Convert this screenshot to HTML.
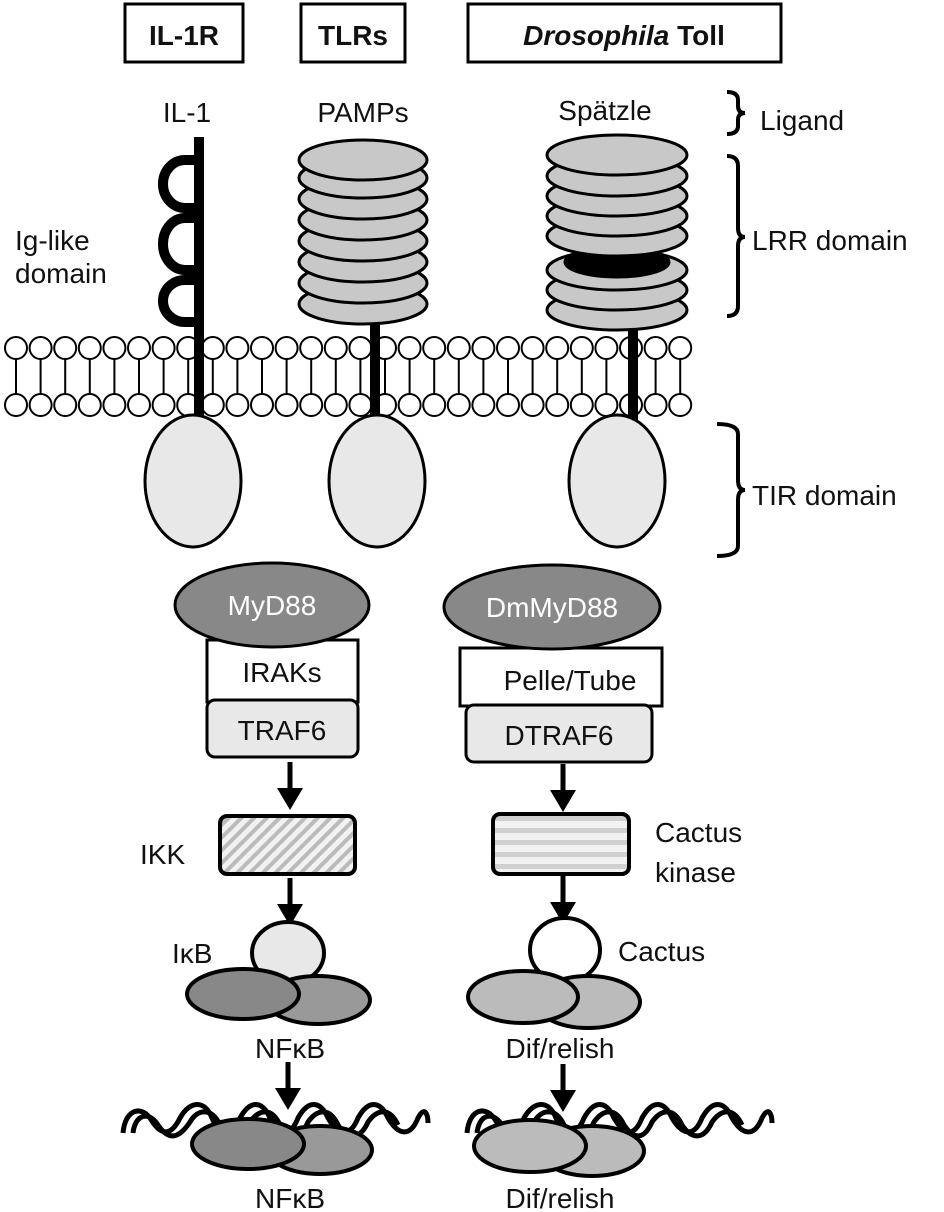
<!DOCTYPE html>
<html><head><meta charset="utf-8"><style>
html,body{margin:0;padding:0;background:#fff}
svg{display:block}
text{font-family:"Liberation Sans",sans-serif;font-size:28px;fill:#111}
</style></head><body>
<svg width="944" height="1212" viewBox="0 0 944 1212" xmlns="http://www.w3.org/2000/svg">
<defs>
<pattern id="hatch" width="9" height="9" patternUnits="userSpaceOnUse" patternTransform="rotate(45)">
<rect width="9" height="9" fill="#f2f2f2"/><rect width="4" height="9" fill="#bbb"/></pattern>
<pattern id="stripe" width="10" height="12" patternUnits="userSpaceOnUse">
<rect width="10" height="12" fill="#f2f2f2"/><rect y="0" width="10" height="5" fill="#d0d0d0"/></pattern>
<g id="arrow"><line x1="0" y1="0" x2="0" y2="30" stroke="#000" stroke-width="5"/><polygon points="-13,26 13,26 0,48" fill="#000"/></g>
</defs>
<g fill="#fff" stroke="#000" stroke-width="3">
<rect x="125" y="4" width="118" height="58"/>
<rect x="301" y="4" width="104" height="58"/>
<rect x="468" y="4" width="313" height="58"/>
</g>
<text x="184" y="45" text-anchor="middle" style="font-weight:bold">IL-1R</text>
<text x="353" y="45" text-anchor="middle" style="font-weight:bold">TLRs</text>
<text x="624" y="45" text-anchor="middle" style="font-weight:bold"><tspan font-style="italic">Drosophila</tspan> Toll</text>
<text x="187" y="122" text-anchor="middle">IL-1</text>
<text x="363" y="122" text-anchor="middle">PAMPs</text>
<text x="605" y="120" text-anchor="middle">Spätzle</text>
<g fill="none" stroke="#000" stroke-width="4">
<path d="M727 92 Q738 92 738 100 V106 Q738 113 745 113 Q738 113 738 120 V126 Q738 134 727 134"/>
<path d="M727 156 Q738 156 738 166 V228 Q738 237 745 237 Q738 237 738 246 V306 Q738 316 727 316"/>
<path d="M717 424 Q738 424 738 434 V480 Q738 490 745 490 Q738 490 738 500 V546 Q738 556 717 556"/>
</g>
<text x="760" y="130">Ligand</text>
<text x="752" y="250">LRR domain</text>
<text x="752" y="505">TIR domain</text>
<text x="15" y="250">Ig-like</text>
<text x="15" y="283">domain</text>
<g fill="none" stroke="#000" stroke-width="10">
<line x1="199" y1="137" x2="199" y2="420"/>
<path d="M199 160 H185 A22 24 0 0 0 185 208 H199"/>
<path d="M199 218 H185 A22 26 0 0 0 185 270 H199"/>
<path d="M199 280 H185 A22 21 0 0 0 185 322 H199"/>
<line x1="375" y1="320" x2="375" y2="420"/>
<line x1="633" y1="325" x2="633" y2="420"/>
</g>
<g fill="#c8c8c8" stroke="#000" stroke-width="3">
<ellipse cx="363" cy="304" rx="64" ry="20"/>
<ellipse cx="363" cy="283" rx="64" ry="20"/>
<ellipse cx="363" cy="262" rx="64" ry="20"/>
<ellipse cx="363" cy="241" rx="64" ry="20"/>
<ellipse cx="363" cy="220" rx="64" ry="20"/>
<ellipse cx="363" cy="199" rx="64" ry="20"/>
<ellipse cx="363" cy="178" rx="64" ry="20"/>
<ellipse cx="363" cy="160" rx="64" ry="20"/>
</g>
<g fill="#c8c8c8" stroke="#000" stroke-width="3">
<ellipse cx="617" cy="310" rx="70" ry="20"/>
<ellipse cx="617" cy="290" rx="70" ry="20"/>
<ellipse cx="617" cy="270" rx="70" ry="20"/>
<ellipse cx="617" cy="262" rx="52" ry="15" fill="#000"/>
<ellipse cx="617" cy="236" rx="70" ry="20"/>
<ellipse cx="617" cy="216" rx="70" ry="20"/>
<ellipse cx="617" cy="196" rx="70" ry="20"/>
<ellipse cx="617" cy="176" rx="70" ry="20"/>
<ellipse cx="617" cy="155" rx="70" ry="20"/>
</g>
<g id="mem" stroke="#000" stroke-width="2" fill="#fff"></g>
<g fill="#e8e8e8" stroke="#000" stroke-width="3">
<ellipse cx="193" cy="481" rx="48" ry="66"/>
<ellipse cx="377" cy="481" rx="48" ry="66"/>
<ellipse cx="617" cy="481" rx="48" ry="66"/>
</g>
<g stroke="#000" stroke-width="3">
<rect x="207" y="640" width="151" height="62" fill="#fff"/>
<rect x="207" y="700" width="151" height="57" rx="8" fill="#e8e8e8"/>
<rect x="460" y="648" width="202" height="58" fill="#fff"/>
<rect x="466" y="705" width="186" height="57" rx="8" fill="#e8e8e8"/>
<ellipse cx="272" cy="605" rx="97" ry="42" fill="#888"/>
<ellipse cx="552" cy="607" rx="108" ry="42" fill="#888"/>
</g>
<text x="272" y="615" text-anchor="middle" style="fill:#fff">MyD88</text>
<text x="552" y="617" text-anchor="middle" style="fill:#fff">DmMyD88</text>
<text x="282" y="682" text-anchor="middle">IRAKs</text>
<text x="282" y="740" text-anchor="middle">TRAF6</text>
<text x="570" y="690" text-anchor="middle">Pelle/Tube</text>
<text x="559" y="745" text-anchor="middle">DTRAF6</text>
<use href="#arrow" x="290" y="762"/>
<use href="#arrow" x="563" y="764"/>
<use href="#arrow" x="290" y="878"/>
<use href="#arrow" x="563" y="876"/>
<use href="#arrow" x="288" y="1062"/>
<use href="#arrow" x="563" y="1064"/>
<rect x="220" y="816" width="135" height="58" rx="7" fill="url(#hatch)" stroke="#000" stroke-width="4"/>
<rect x="493" y="814" width="136" height="60" rx="7" fill="url(#stripe)" stroke="#000" stroke-width="4"/>
<text x="140" y="864">IKK</text>
<text x="655" y="842">Cactus</text>
<text x="655" y="882">kinase</text>
<g stroke="#000" stroke-width="4">
<ellipse cx="288" cy="953" rx="36" ry="31" fill="#e8e8e8"/>
<ellipse cx="318" cy="1000" rx="52" ry="24" fill="#999"/>
<ellipse cx="243" cy="994" rx="56" ry="25" fill="#888"/>
<ellipse cx="565" cy="950" rx="35" ry="32" fill="#fff"/>
<ellipse cx="588" cy="1002" rx="52" ry="26" fill="#bbb"/>
<ellipse cx="523" cy="997" rx="55" ry="26" fill="#bbb"/>
</g>
<text x="172" y="963">IκB</text>
<text x="618" y="961">Cactus</text>
<text x="290" y="1058" text-anchor="middle">NFκB</text>
<text x="560" y="1058" text-anchor="middle">Dif/relish</text>
<g fill="none" stroke="#000" stroke-width="5">
<path d="M123 1133 C125 1110 140 1105 150 1118 C160 1135 170 1138 180 1118 C190 1100 205 1100 212 1118 C220 1135 232 1138 240 1118 C250 1100 262 1100 270 1118 C280 1135 290 1138 298 1118 C308 1100 320 1100 328 1118 C338 1135 350 1138 358 1118 C368 1100 380 1100 388 1118 C398 1135 410 1138 418 1118 C425 1105 428 1115 428 1123"/>
<path d="M133 1133 C135 1115 148 1110 158 1125 C168 1140 178 1140 190 1122 C198 1108 212 1108 220 1125 C230 1140 242 1140 250 1122 C260 1108 272 1108 280 1125 C290 1140 300 1140 308 1122 C318 1108 330 1108 338 1125 C348 1140 360 1140 368 1122 C378 1108 390 1108 398 1125"/>
<path d="M467 1133 C469 1110 484 1105 494 1118 C504 1135 514 1138 524 1118 C534 1100 549 1100 556 1118 C564 1135 576 1138 584 1118 C594 1100 606 1100 614 1118 C624 1135 634 1138 642 1118 C652 1100 664 1100 672 1118 C682 1135 694 1138 702 1118 C712 1100 724 1100 732 1118 C742 1135 754 1138 762 1118 C769 1105 772 1115 772 1123"/>
<path d="M477 1133 C479 1115 492 1110 502 1125 C512 1140 522 1140 534 1122 C542 1108 556 1108 564 1125 C574 1140 586 1140 594 1122 C604 1108 616 1108 624 1125 C634 1140 644 1140 652 1122 C662 1108 674 1108 682 1125 C692 1140 704 1140 712 1122 C722 1108 734 1108 742 1125"/>
</g>
<g stroke="#000" stroke-width="4">
<ellipse cx="320" cy="1150" rx="52" ry="24" fill="#999"/>
<ellipse cx="248" cy="1144" rx="56" ry="25" fill="#888"/>
<ellipse cx="592" cy="1151" rx="52" ry="25" fill="#bbb"/>
<ellipse cx="530" cy="1146" rx="56" ry="26" fill="#bbb"/>
</g>
<text x="290" y="1208" text-anchor="middle">NFκB</text>
<text x="560" y="1208" text-anchor="middle">Dif/relish</text>
</svg>
<script>
(function(){
 var ns="http://www.w3.org/2000/svg",g=document.getElementById("mem");
 for(var i=0;i<28;i++){
  var x=16+i*24.6;
  var l=document.createElementNS(ns,"line");
  l.setAttribute("x1",x);l.setAttribute("x2",x);l.setAttribute("y1",358);l.setAttribute("y2",395);
  g.appendChild(l);
  [348,405].forEach(function(y){
   var c=document.createElementNS(ns,"circle");
   c.setAttribute("cx",x);c.setAttribute("cy",y);c.setAttribute("r",11);
   g.appendChild(c);
  });
 }
 ["199","375","633"].forEach(function(x){
  var l=document.createElementNS(ns,"line");
  l.setAttribute("x1",x);l.setAttribute("x2",x);l.setAttribute("y1",330);l.setAttribute("y2",418);
  l.setAttribute("stroke","#000");l.setAttribute("stroke-width","10");
  g.parentNode.insertBefore(l,g.nextSibling);
 });
})();
</script>
</body></html>
